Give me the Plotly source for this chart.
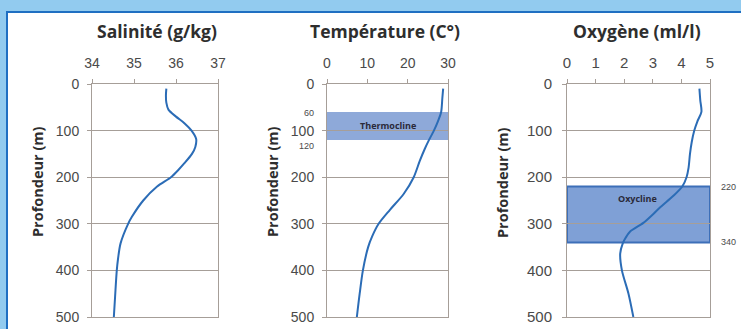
import plotly.graph_objects as go

W, H = 741, 329

# Depth profiles (m) and measured values
sal_depth = [10, 25, 40, 55, 70, 84, 100, 118, 135, 150, 170, 185, 200, 220, 250, 285, 300, 342, 375, 400, 456, 500]
salinity = [35.77, 35.76, 35.77, 35.82, 36.00, 36.20, 36.37, 36.48, 36.46, 36.38, 36.20, 36.05, 35.88, 35.55, 35.22, 34.95, 34.86, 34.68, 34.62, 34.59, 34.55, 34.52]

temp_depth = [10, 30, 60, 80, 100, 120, 140, 165, 200, 236, 270, 300, 327, 350, 400, 450, 500]
temperature = [28.8, 28.6, 28.3, 27.5, 26.5, 25.3, 24.2, 23.0, 21.5, 19.0, 15.6, 12.8, 11.2, 10.2, 8.9, 8.1, 7.4]

oxy_depth = [10, 35, 60, 80, 100, 125, 150, 180, 200, 220, 240, 265, 280, 298, 317, 330, 342, 364, 400, 450, 500]
oxygen = [4.63, 4.66, 4.70, 4.56, 4.45, 4.36, 4.30, 4.25, 4.18, 4.03, 3.72, 3.25, 3.00, 2.67, 2.20, 2.05, 1.95, 1.86, 1.92, 2.15, 2.32]

sal_ticks = [34, 35, 36, 37]
temp_ticks = [0, 10, 20, 30]
oxy_ticks = [0, 1, 2, 3, 4, 5]
depth_ticks = [0, 100, 200, 300, 400, 500]

thermocline = (60, 120)
oxycline = (220, 340)

titles = ["Salinité (g/kg)", "Température (C°)", "Oxygène (ml/l)"]
depth_title = "Profondeur (m)"

LINE = "#2b6cb6"
GRID = "#a69e98"
TXT = "#4a4a4a"
HEAD = "#2e2e2e"

# panel layout in pixels: (left, right)
panels = [(92, 218), (327, 448), (567, 710)]
top_px, bot_px = 84, 317


def fx(px):
    return px / W


def fy(py):
    return 1 - py / H


def depth_px(d):
    return top_px + (bot_px - top_px) * d / 500


fig = go.Figure()

series = [
    (salinity, sal_depth, [34, 37], sal_ticks),
    (temperature, temp_depth, [0, 30], temp_ticks),
    (oxygen, oxy_depth, [0, 5], oxy_ticks),
]

for i, ((vals, dep, xr, xt), (l, r)) in enumerate(zip(series, panels)):
    n = "" if i == 0 else str(i + 1)
    fig.add_trace(go.Scatter(
        x=vals, y=dep, mode="lines", line=dict(color=LINE, width=2, shape="spline", smoothing=0.8),
        xaxis="x" + n, yaxis="y" + n, showlegend=False, hoverinfo="skip"))
    fsize = 14 if i < 2 else 15
    fig.layout["xaxis" + n] = dict(
        domain=[fx(l), fx(r)], range=xr, side="top", anchor="y" + n, automargin=False,
        tickvals=xt, ticks="outside", ticklen=4, tickcolor=GRID,
        showline=True, linecolor=GRID, linewidth=1, mirror=True,
        showgrid=False, zeroline=False, ticklabelstandoff=5,
        tickfont=dict(family="Liberation Sans", size=fsize, color=TXT))
    fig.layout["yaxis" + n] = dict(
        domain=[fy(bot_px), fy(top_px)], range=[500, 0], anchor="x" + n, automargin=False,
        tickvals=depth_ticks, ticks="outside", ticklen=4, tickcolor=GRID,
        showline=True, linecolor=GRID, linewidth=1, mirror=True,
        showgrid=True, gridcolor=GRID, gridwidth=1, zeroline=False,
        ticklabelstandoff=5 if i < 2 else 7,
        tickfont=dict(family="Liberation Sans", size=fsize, color=TXT))

shapes = [
    # white card with dark blue edge
    dict(type="rect", xref="paper", yref="paper", x0=fx(7), x1=fx(W + 5), y0=fy(H + 5), y1=fy(12),
         fillcolor="white", line=dict(color="#1f6fc2", width=2), layer="below"),
    # thermocline band
    dict(type="rect", xref="x2", yref="y2", x0=0, x1=30, y0=thermocline[0], y1=thermocline[1],
         fillcolor="#8ea9d9", line=dict(width=0), layer="below"),
    # oxycline band
    dict(type="rect", xref="x3", yref="y3", x0=0, x1=5, y0=oxycline[0], y1=oxycline[1],
         fillcolor="#7fa0d6", line=dict(color="#3d6fb8", width=2), layer="below"),
]

ann = []
centers = [157, 385, 637]
for t, cx in zip(titles, centers):
    ann.append(dict(text="<b>%s</b>" % t, x=fx(cx), y=fy(31), xref="paper", yref="paper",
                    xanchor="center", yanchor="middle", showarrow=False,
                    font=dict(family="Open Sans", size=17.5, color=HEAD)))
for px in [37, 272, 502]:
    ann.append(dict(text="<b>%s</b>" % depth_title, x=fx(px), y=fy(182), xref="paper", yref="paper",
                    xanchor="center", yanchor="middle", textangle=-90, showarrow=False,
                    font=dict(family="Open Sans", size=14.5, color=HEAD)))

# band labels
ann.append(dict(text="<b>Thermocline</b>", x=15, y=88, xref="x2", yref="y2", showarrow=False,
                xanchor="center", yanchor="middle",
                font=dict(family="Open Sans", size=9, color="#2a2a3a")))
ann.append(dict(text="<b>Oxycline</b>", x=2.45, y=245, xref="x3", yref="y3", showarrow=False,
                xanchor="center", yanchor="middle",
                font=dict(family="Open Sans", size=9, color="#2a2a3a")))
ann.append(dict(text=str(thermocline[0]), x=fx(316), y=fy(depth_px(thermocline[0]) + 1),
                xref="paper", yref="paper", xanchor="right", yanchor="middle", showarrow=False,
                font=dict(family="Liberation Sans", size=9, color=TXT)))
ann.append(dict(text=str(thermocline[1]), x=fx(316), y=fy(depth_px(thermocline[1]) + 6),
                xref="paper", yref="paper", xanchor="right", yanchor="middle", showarrow=False,
                font=dict(family="Liberation Sans", size=9, color=TXT)))
for v in oxycline:
    ann.append(dict(text=str(v), x=fx(719), y=fy(depth_px(v)), xref="paper", yref="paper",
                    xanchor="left", yanchor="middle", showarrow=False,
                    font=dict(family="Liberation Sans", size=9, color=TXT)))

fig.update_layout(
    width=W, height=H, margin=dict(l=0, r=0, t=0, b=0),
    paper_bgcolor="#92cbef", plot_bgcolor="white",
    shapes=shapes, annotations=ann,
)

fig.write_html("out.html")
